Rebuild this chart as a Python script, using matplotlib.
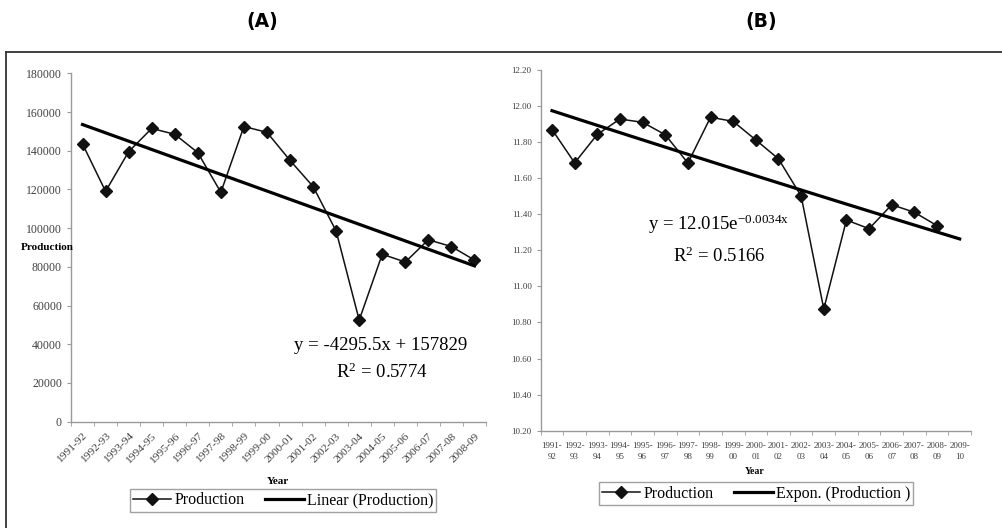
import numpy as np
import matplotlib
matplotlib.use("Agg")
import matplotlib.pyplot as plt
from matplotlib.lines import Line2D
from matplotlib.ticker import FixedLocator

plt.rcParams['font.family'] = ['Liberation Serif', 'DejaVu Serif']
plt.rcParams['mathtext.fontset'] = 'custom'
plt.rcParams['mathtext.rm'] = 'Liberation Serif'
plt.rcParams['mathtext.it'] = 'Liberation Serif'

# ---- data ----
years_a = ["1991-92", "1992-93", "1993-94", "1994-95", "1995-96", "1996-97",
           "1997-98", "1998-99", "1999-00", "2000-01", "2001-02", "2002-03",
           "2003-04", "2004-05", "2005-06", "2006-07", "2007-08", "2008-09"]
production = [143500, 119000, 139500, 151500, 148500, 139000, 118500, 152500,
              149500, 135000, 121500, 98500, 52500, 86500, 82500, 94000, 90500, 83500]
lin_slope = -4295.5
lin_intercept = 157829

years_b = ["1991-\n92", "1992-\n93", "1993-\n94", "1994-\n95", "1995-\n96",
           "1996-\n97", "1997-\n98", "1998-\n99", "1999-\n00", "2000-\n01",
           "2001-\n02", "2002-\n03", "2003-\n04", "2004-\n05", "2005-\n06",
           "2006-\n07", "2007-\n08", "2008-\n09", "2009-\n10"]
log_production = [11.87, 11.685, 11.843, 11.928, 11.910, 11.841, 11.684, 11.938,
                  11.915, 11.812, 11.707, 11.501, 10.875, 11.368, 11.320, 11.453,
                  11.411, 11.337]
exp_a = 12.015
exp_b = -0.0034

W, H = 1002, 528
fig = plt.figure(figsize=(W / 100, H / 100), dpi=100)

def fx(px):
    return px / W

def fy(py):
    return 1 - py / H

# outer frame (top and left lines)
fig.add_artist(Line2D([fx(6), 1.0], [fy(52), fy(52)], color='#333333', lw=1.3))
fig.add_artist(Line2D([fx(6), fx(6)], [0, fy(52)], color='#333333', lw=1.3))

# titles
fig.text(fx(262), fy(21), "(A)", ha='center', va='center', fontsize=13.5,
         fontweight='bold', family='DejaVu Sans')
fig.text(fx(761), fy(21), "(B)", ha='center', va='center', fontsize=13.5,
         fontweight='bold', family='DejaVu Sans')

spine_col = '#9a9a9a'
tick_col = '#404040'

def style(ax):
    for s in ['top', 'right']:
        ax.spines[s].set_visible(False)
    for s in ['left', 'bottom']:
        ax.spines[s].set_color(spine_col)
        ax.spines[s].set_linewidth(1.0)
    ax.tick_params(axis='y', direction='out', length=3, color=spine_col, labelcolor=tick_col)
    ax.tick_params(axis='x', which='major', length=0, labelcolor=tick_col)
    ax.tick_params(axis='x', which='minor', direction='out', length=3, color=spine_col)

# ---- panel A ----
axA = fig.add_axes([fx(71), fy(421.7), fx(486) - fx(71), fy(73.3) - fy(421.7)])
xa = np.arange(1, len(production) + 1)
axA.plot(xa, production, color='#111111', lw=1.1, marker='D', markersize=6,
         label='Production')
axA.plot(xa, lin_slope * xa + lin_intercept, color='black', lw=2.3,
         label='Linear (Production)')
axA.set_xlim(0.5, len(years_a) + 0.5)
axA.set_ylim(0, 180000)
axA.set_yticks(np.arange(0, 180001, 20000))
axA.set_yticklabels([f"{v:d}" for v in range(0, 180001, 20000)], fontsize=8.5)
axA.set_xticks(xa)
axA.set_xticklabels(years_a, rotation=45, ha='right', va='top',
                    rotation_mode='anchor', fontsize=8.2)
axA.xaxis.set_minor_locator(FixedLocator(np.arange(0.5, len(years_a) + 1, 1)))
axA.tick_params(axis='x', which='major', pad=7)
style(axA)

fig.text(fx(47), fy(247), "Production", ha='center', va='center', fontsize=8,
         fontweight='bold')
fig.text(fx(278), fy(481), "Year", ha='center', va='center', fontsize=8,
         fontweight='bold')
fig.text(fx(381), fy(350), "y = -4295.5x + 157829", ha='center', va='baseline',
         fontsize=13.5)
fig.text(fx(382), fy(378), r"R$^{\mathrm{2}}$ = 0.5774", ha='center', va='baseline',
         fontsize=13.5)

legA = fig.legend(handles=axA.get_lines(), loc='center',
                  bbox_to_anchor=(fx(283), fy(500.5)), ncol=2, fontsize=11.5,
                  frameon=True, fancybox=False, edgecolor='#8a8a8a',
                  handlelength=2.4, handletextpad=0.2, columnspacing=1.3,
                  borderpad=0.2, borderaxespad=0)
legA.get_frame().set_linewidth(1.0)

# ---- panel B ----
axB = fig.add_axes([fx(540.7), fy(430.7), fx(971) - fx(540.7), fy(70) - fy(430.7)])
xb = np.arange(1, len(log_production) + 1)
xt = np.arange(1, len(years_b) + 1)
axB.plot(xb, log_production, color='#111111', lw=1.1, marker='D', markersize=6,
         label='Production')
axB.plot(xt, exp_a * np.exp(exp_b * xt), color='black', lw=2.3,
         label='Expon. (Production )')
axB.set_xlim(0.5, len(years_b) + 0.5)
axB.set_ylim(10.2, 12.2)
yt = np.round(np.arange(10.2, 12.21, 0.2), 2)
axB.set_yticks(yt)
axB.set_yticklabels([f"{v:.2f}" for v in yt], fontsize=6.5)
axB.set_xticks(xt)
axB.set_xticklabels(years_b, fontsize=6.5, linespacing=1.6)
axB.xaxis.set_minor_locator(FixedLocator(np.arange(0.5, len(years_b) + 1, 1)))
axB.tick_params(axis='x', which='major', pad=8)
style(axB)

fig.text(fx(755), fy(472), "Year", ha='center', va='center', fontsize=7,
         fontweight='bold')
fig.text(fx(719), fy(230), r"y = 12.015e$^{\mathrm{-0.0034x}}$", ha='center',
         va='baseline', fontsize=13.5)
fig.text(fx(719), fy(261.5), r"R$^{\mathrm{2}}$ = 0.5166", ha='center',
         va='baseline', fontsize=13.5)

legB = fig.legend(handles=axB.get_lines(), loc='center',
                  bbox_to_anchor=(fx(756), fy(493.5)), ncol=2, fontsize=11.5,
                  frameon=True, fancybox=False, edgecolor='#8a8a8a',
                  handlelength=2.4, handletextpad=0.2, columnspacing=1.3,
                  borderpad=0.2, borderaxespad=0)
legB.get_frame().set_linewidth(1.0)

fig.savefig("out.png", dpi=100)
